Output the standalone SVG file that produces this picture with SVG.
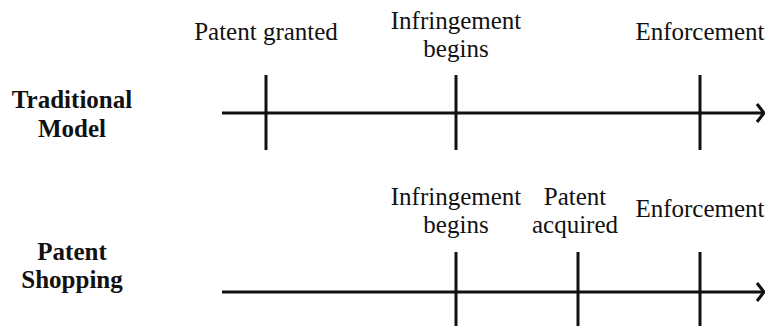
<svg xmlns="http://www.w3.org/2000/svg" width="765" height="326" viewBox="0 0 765 326">
<style>
  .lbl { font-family: "Liberation Serif", "Times New Roman", serif; font-size: 25px; fill: #111; text-anchor: middle; }
  .row { font-family: "Liberation Serif", "Times New Roman", serif; font-size: 25px; font-weight: bold; fill: #111; text-anchor: middle; }
  .ax { stroke: #111; stroke-width: 3; fill: none; }
  .tk { stroke: #111; stroke-width: 3; fill: none; }
</style>
<rect width="765" height="326" fill="#fff"/>
<g id="row-traditional">
  <text class="row" x="72" y="108">Traditional</text>
  <text class="row" x="72" y="137">Model</text>
</g>
<g id="row-shopping">
  <text class="row" x="72" y="260">Patent</text>
  <text class="row" x="72" y="288">Shopping</text>
</g>
<g id="t-granted">
  <line class="tk" x1="266" y1="75" x2="266" y2="150"/>
  <text class="lbl" x="266" y="40">Patent granted</text>
</g>
<g id="t-infringe1">
  <line class="tk" x1="456" y1="75" x2="456" y2="150"/>
  <text class="lbl" x="456" y="29">Infringement</text>
  <text class="lbl" x="456" y="57">begins</text>
</g>
<g id="t-enforce1">
  <line class="tk" x1="700" y1="75" x2="700" y2="150"/>
  <text class="lbl" x="700" y="40">Enforcement</text>
</g>
<g id="t-infringe2">
  <line class="tk" x1="456" y1="252" x2="456" y2="330"/>
  <text class="lbl" x="456" y="205">Infringement</text>
  <text class="lbl" x="456" y="233">begins</text>
</g>
<g id="t-acquired">
  <line class="tk" x1="578" y1="252" x2="578" y2="330"/>
  <text class="lbl" x="575" y="205">Patent</text>
  <text class="lbl" x="575" y="233">acquired</text>
</g>
<g id="t-enforce2">
  <line class="tk" x1="700" y1="252" x2="700" y2="330"/>
  <text class="lbl" x="700" y="217">Enforcement</text>
</g>
<g id="connectors">
  <line class="ax" x1="222" y1="113" x2="763" y2="113"/>
  <polyline class="ax" points="757,104 764,113 757,122"/>
  <line class="ax" x1="222" y1="292" x2="763" y2="292"/>
  <polyline class="ax" points="757,283 764,292 757,301"/>
</g>
</svg>
